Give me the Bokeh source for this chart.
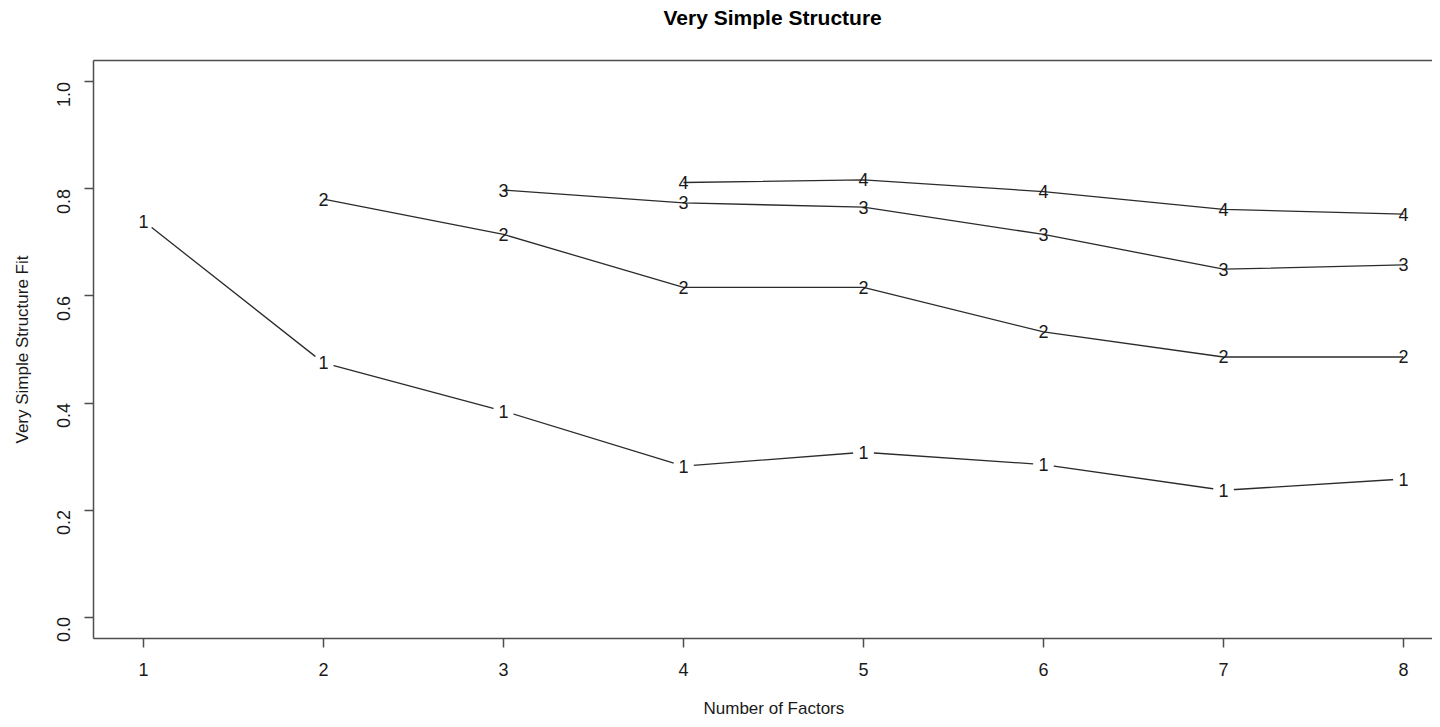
import math
from bokeh.plotting import figure
from bokeh.models import (ColumnDataSource, FixedTicker, PrintfTickFormatter, Title,
                          Range1d, LinearAxis)
from bokeh.core.properties import value
from bokeh.embed import file_html
from bokeh.resources import INLINE

# ---------------- data ----------------
title_text = "Very Simple Structure"
x_label = "Number of Factors"
y_label = "Very Simple Structure Fit"

n_factors = [1, 2, 3, 4, 5, 6, 7, 8]
fit_complexity_1 = [0.740, 0.475, 0.385, 0.282, 0.308, 0.285, 0.237, 0.258]
fit_complexity_2 = [None, 0.781, 0.715, 0.616, 0.616, 0.533, 0.486, 0.486]
fit_complexity_3 = [None, None, 0.798, 0.774, 0.766, 0.715, 0.650, 0.658]
fit_complexity_4 = [None, None, None, 0.812, 0.817, 0.795, 0.762, 0.753]
series_names = ["1", "2", "3", "4"]
y_ticks = [0.0, 0.2, 0.4, 0.6, 0.8, 1.0]

# ---------------- style ----------------
FONT = "Liberation Sans"
INK = "#1a1a1a"
FRAME = "#4d4d4d"
LINE = "#2b2b2b"

p = figure(width=1432, height=719, output_backend="svg", toolbar_location=None,
           x_range=Range1d(0.7222, 8.1611), y_range=Range1d(-0.04, 1.04),
           min_border_left=93, min_border_right=0, min_border_top=60,
           min_border_bottom=81)
p.grid.visible = False
p.outline_line_color = None          # right side of the R box is cropped away
p.background_fill_color = "white"
p.border_fill_color = "white"

for ax in (p.xaxis[0], p.yaxis[0]):
    ax.axis_line_color = FRAME
    ax.axis_line_width = 1.5
    ax.major_tick_line_color = FRAME
    ax.major_tick_line_width = 1.5
    ax.major_tick_in = 0
    ax.major_tick_out = 9
    ax.minor_tick_line_color = None
    ax.major_label_text_font = FONT
    ax.major_label_text_font_size = "18px"
    ax.major_label_text_color = INK
    ax.axis_label_text_font = FONT
    ax.axis_label_text_font_size = "17px"
    ax.axis_label_text_font_style = "normal"
    ax.axis_label_text_color = INK

p.xaxis.ticker = FixedTicker(ticks=n_factors)
p.xaxis.major_label_standoff = 15
p.yaxis.ticker = FixedTicker(ticks=y_ticks)
p.yaxis.formatter = PrintfTickFormatter(format="%.1f")
p.yaxis.major_label_orientation = math.pi / 2
p.yaxis.major_label_standoff = 21
p.yaxis.axis_label = y_label
p.yaxis.axis_label_standoff = 16

MID = (n_factors[0] + n_factors[-1]) / 2


def spacer_axis(extent, line_color):
    # an axis whose only (practically invisible) tick reserves vertical space
    return LinearAxis(ticker=FixedTicker(ticks=[MID]), axis_line_color=line_color,
                      axis_line_width=1.5, major_tick_line_color="white",
                      major_tick_line_alpha=0.02, major_tick_line_width=0.5,
                      minor_tick_line_color=None, major_tick_in=0,
                      major_tick_out=extent, major_label_text_font_size="0px",
                      major_label_text_color=None, major_label_standoff=0,
                      major_label_overrides={MID: ""})


# top edge of the box; its tick extent lifts the title to the top of the page
p.add_layout(spacer_axis(29, FRAME), "above")
# spacer below the x axis so the x label sits near the bottom edge
p.add_layout(spacer_axis(18, None), "below")


def points(values):
    xs = [x for x, v in zip(n_factors, values) if v is not None]
    ys = [v for v in values if v is not None]
    return xs, ys


all_series = [fit_complexity_1, fit_complexity_2, fit_complexity_3, fit_complexity_4]
for i, (name, vals) in enumerate(zip(series_names, all_series)):
    xs, ys = points(vals)
    src = ColumnDataSource(dict(x=xs, y=ys, t=[name] * len(xs)))
    p.line("x", "y", source=src, line_color=LINE, line_width=1.3)
    if i == 0:
        # R type="b": gaps around the plotted characters
        p.scatter("x", "y", source=src, size=21, fill_color="white",
                  line_color=None)
    p.text("x", "y", text="t", source=src, text_font=value(FONT),
           text_font_size="18px", text_color=INK, text_align="center",
           text_baseline="middle")

# title and x-axis label centred on the full (uncropped) R plot region
p.title.text = title_text
p.title.align = "left"
p.title.offset = 570
p.title.text_font = FONT
p.title.text_font_size = "21px"
p.title.text_font_style = "bold"
p.title.text_color = "#000000"
p.title.standoff = 6

p.add_layout(Title(text=x_label, align="left", offset=610, text_font=FONT,
                   text_font_size="17px", text_font_style="normal",
                   text_color=INK, standoff=0), "below")

open("out.html", "w").write(file_html(p, INLINE))
